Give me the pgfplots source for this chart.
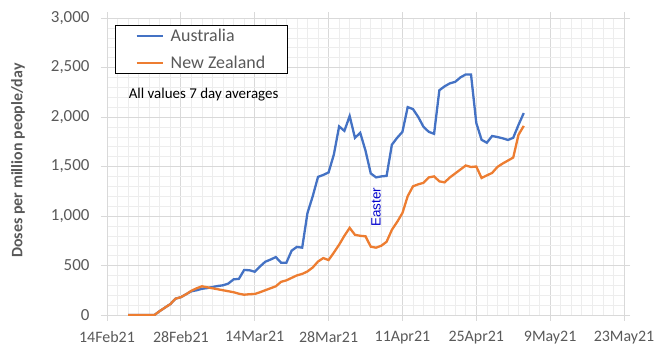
\documentclass[border=0pt]{standalone}
\usepackage{fontspec}
\setmainfont{Carlito}
\newfontfamily\arialfont{Liberation Sans}
\usepackage{pgfplots}
\pgfplotsset{compat=1.18}
\definecolor{aus}{HTML}{4472C4}
\definecolor{nz}{HTML}{ED7D31}
\definecolor{txtgray}{HTML}{595959}
\definecolor{majgrid}{HTML}{D9D9D9}
\definecolor{mingrid}{HTML}{EDEDED}
\definecolor{easter}{HTML}{0000CC}
\begin{document}
\begin{tikzpicture}
\begin{axis}[
 scale only axis, width=517bp, height=297bp,
 xmin=0, xmax=98, ymin=0, ymax=3000,
 xtick={0,14,...,98},
 xticklabels={14Feb21,28Feb21,14Mar21,28Mar21,11Apr21,25Apr21,9May21,23May21},
 minor x tick num=6,
 ytick={0,500,...,3000},
 minor y tick num=4,
 grid=both,
 major grid style={draw=majgrid, line width=0.8bp},
 minor grid style={draw=mingrid, line width=0.6bp},
 axis line style={draw=majgrid, line width=0.8bp},
 tick align=outside,
 major tick length=6bp, minor tick length=0pt,
 ytick style={draw=majgrid, line width=0.8bp},
 xtick style={draw=majgrid, line width=0.8bp},
 ticklabel style={font=\fontsize{16}{19}\selectfont, text=txtgray},
 xticklabel style={yshift=-7bp},
 yticklabel style={xshift=-8bp, font=\fontsize{17}{20}\selectfont},
 /pgf/number format/assume math mode=true,
 /pgf/number format/1000 sep={,},
 scaled y ticks=false,
 ylabel={Doses per million people/day},
 ylabel style={font=\bfseries\fontsize{16}{19}\selectfont, text=txtgray, at={(rel axis cs:-0.172,0.52)}, anchor=center},
 legend style={at={(rel axis cs:0.0155,0.976)}, anchor=north west, draw=black, line width=0.8bp,
   font=\fontsize{18}{22}\selectfont, text=txtgray, inner xsep=20bp, inner ysep=1.5bp, row sep=9bp,
   cells={anchor=west}, /tikz/every odd column/.append style={column sep=5bp}},
 legend image code/.code={\draw[#1] (0bp,0bp) -- (26bp,0bp);},
]
\addplot[aus, line width=2.3bp] coordinates {
(4,0)(5,0)(6,0)(7,0)(8,0)(9,0)(10,40)(11,75)(12,110)(13,165)(14,180)(15,210)(16,240)(17,250)(18,265)(19,272)(20,283)(21,293)(22,300)(23,318)(24,360)(25,365)(26,455)(27,452)(28,437)(29,490)(30,538)(31,560)(32,585)(33,528)(34,528)(35,650)(36,688)(37,680)(38,1030)(39,1200)(40,1395)(41,1415)(42,1440)(43,1620)(44,1905)(45,1860)(46,2010)(47,1790)(48,1840)(49,1660)(50,1430)(51,1390)(52,1400)(53,1405)(54,1720)(55,1790)(56,1850)(57,2100)(58,2080)(59,2000)(60,1900)(61,1850)(62,1830)(63,2270)(64,2310)(65,2340)(66,2355)(67,2400)(68,2430)(69,2430)(70,1940)(71,1770)(72,1740)(73,1808)(74,1798)(75,1785)(76,1768)(77,1790)(78,1920)(79,2040)
};
\addlegendentry{Australia}
\addplot[nz, line width=2.3bp] coordinates {
(4,0)(5,0)(6,0)(7,0)(8,0)(9,0)(10,40)(11,75)(12,110)(13,165)(14,180)(15,210)(16,245)(17,270)(18,290)(19,280)(20,270)(21,260)(22,250)(23,240)(24,230)(25,215)(26,205)(27,210)(28,212)(29,230)(30,250)(31,270)(32,290)(33,335)(34,350)(35,375)(36,400)(37,415)(38,440)(39,480)(40,540)(41,575)(42,555)(43,630)(44,710)(45,800)(46,880)(47,810)(48,800)(49,795)(50,690)(51,680)(52,700)(53,740)(54,860)(55,940)(56,1030)(57,1200)(58,1300)(59,1320)(60,1335)(61,1390)(62,1400)(63,1350)(64,1340)(65,1390)(66,1430)(67,1470)(68,1510)(69,1495)(70,1500)(71,1384)(72,1410)(73,1435)(74,1495)(75,1530)(76,1560)(77,1590)(78,1820)(79,1910)
};
\addlegendentry{New Zealand}
\node[anchor=west, font=\fontsize{15}{18}\selectfont, inner sep=0pt] at (axis cs:4.1,2227) {All values 7 day averages};
\node[rotate=90, font=\arialfont\fontsize{13.5}{16}\selectfont, text=easter, inner sep=0pt] at (axis cs:51,1090) {Easter};
\end{axis}
\pgfresetboundingbox
\path ([xshift=-107bp,yshift=-48bp]current axis.south west) rectangle ([xshift=44bp,yshift=18bp]current axis.north east);
\end{tikzpicture}
\end{document}
